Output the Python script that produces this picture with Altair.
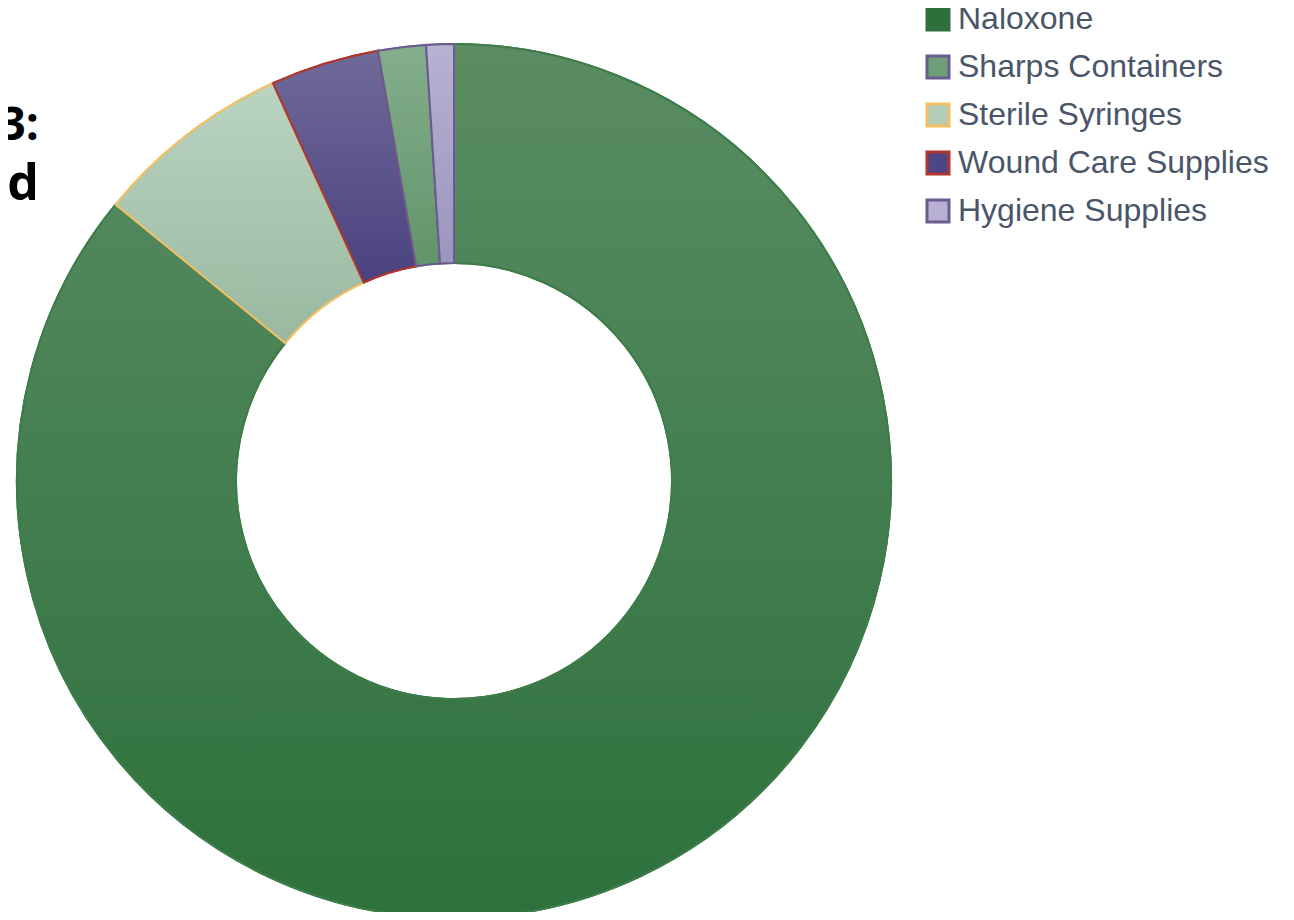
import altair as alt
import pandas as pd

# Slices in drawing order (clockwise from 12 o'clock)
categories = ["Naloxone", "Sterile Syringes", "Wound Care Supplies", "Sharps Containers", "Hygiene Supplies"]
values = [85.9, 7.3, 4.02, 1.76, 1.02]

# Legend order and colours
legend_order = ["Naloxone", "Sharps Containers", "Sterile Syringes", "Wound Care Supplies", "Hygiene Supplies"]
legend_fill = ["#2e703c", "#6f9f78", "#b3cdb9", "#4e4584", "#b7b0d2"]
legend_stroke = ["#2e703c", "#6b5b8e", "#f2c062", "#b0352c", "#6b5b8e"]

# Per-slice gradient (top -> bottom) and outline colours
grad_top = {"Naloxone": "#5b8c64", "Sterile Syringes": "#b9d4c1", "Wound Care Supplies": "#706a9a",
            "Sharps Containers": "#84ae8c", "Hygiene Supplies": "#b7b1d2"}
grad_bottom = {"Naloxone": "#2d713c", "Sterile Syringes": "#9ab8a0", "Wound Care Supplies": "#4a427f",
               "Sharps Containers": "#61956b", "Hygiene Supplies": "#9c95bd"}
slice_stroke = {"Naloxone": "#3c7d4a", "Sterile Syringes": "#f2c062", "Wound Care Supplies": "#b0352c",
                "Sharps Containers": "#6b5b8e", "Hygiene Supplies": "#6b5b8e"}

title_text = "Figure 3:"
subtitle_text = "Harm Reduction Supplies Distributed"

df = pd.DataFrame({"category": categories, "value": values, "order": list(range(len(categories)))})
total = sum(values)

CX, CY = 446, 473
R_OUT, R_IN = 437, 218

theta = alt.Theta("v0:Q", scale=alt.Scale(domain=[0, total]))
theta2 = alt.Theta2("v1:Q")

base = alt.Chart(df).transform_stack(
    stack="value", groupby=[], as_=["v0", "v1"], sort=[alt.SortField("order", order="ascending")]
)

legend_layer = base.mark_arc(outerRadius=R_OUT, innerRadius=R_IN, strokeWidth=2).encode(
    theta=theta,
    theta2=theta2,
    x=alt.value(CX),
    y=alt.value(CY),
    fill=alt.Fill("category:N", scale=alt.Scale(domain=legend_order, range=legend_fill),
                  legend=alt.Legend(title=None, orient="none", legendX=914, legendY=-5,
                                    symbolType="square", symbolSize=484, symbolStrokeWidth=3,
                                    labelFontSize=32, labelFont="Liberation Sans", labelColor="#4a5568",
                                    labelOffset=4, rowPadding=14, padding=0, labelLimit=400)),
    stroke=alt.Stroke("category:N", scale=alt.Scale(domain=legend_order, range=legend_stroke)),
)

layers = [legend_layer]
for cat in categories:
    grad = {
        "gradient": "linear", "x1": 0, "y1": 0, "x2": 0, "y2": 1,
        "stops": [{"offset": 0, "color": grad_top[cat]}, {"offset": 1, "color": grad_bottom[cat]}],
    }
    layers.append(
        base.transform_filter(alt.datum.category == cat).mark_arc(
            outerRadius=R_OUT, innerRadius=R_IN, fill=grad, stroke=slice_stroke[cat], strokeWidth=2
        ).encode(theta=theta, theta2=theta2, x=alt.value(CX), y=alt.value(CY))
    )

chart = alt.layer(*layers).properties(
    width=1278, height=904,
    autosize=alt.AutoSizeParams(type="none"),
    padding={"left": 0, "top": 0, "right": 0, "bottom": 0},
    title=alt.TitleParams(text=title_text, subtitle=subtitle_text, anchor="start", frame="group",
                          align="right", dx=31, dy=208, font="Open Sans", fontSize=46,
                          fontWeight="bold", color="#000000", offset=0,
                          subtitleFont="Open Sans", subtitleFontSize=50, subtitleFontWeight="bold",
                          subtitleColor="#000000", subtitlePadding=10),
).configure_view(stroke=None)

chart.save("out.html", embed_options={"renderer": "svg", "actions": False})
